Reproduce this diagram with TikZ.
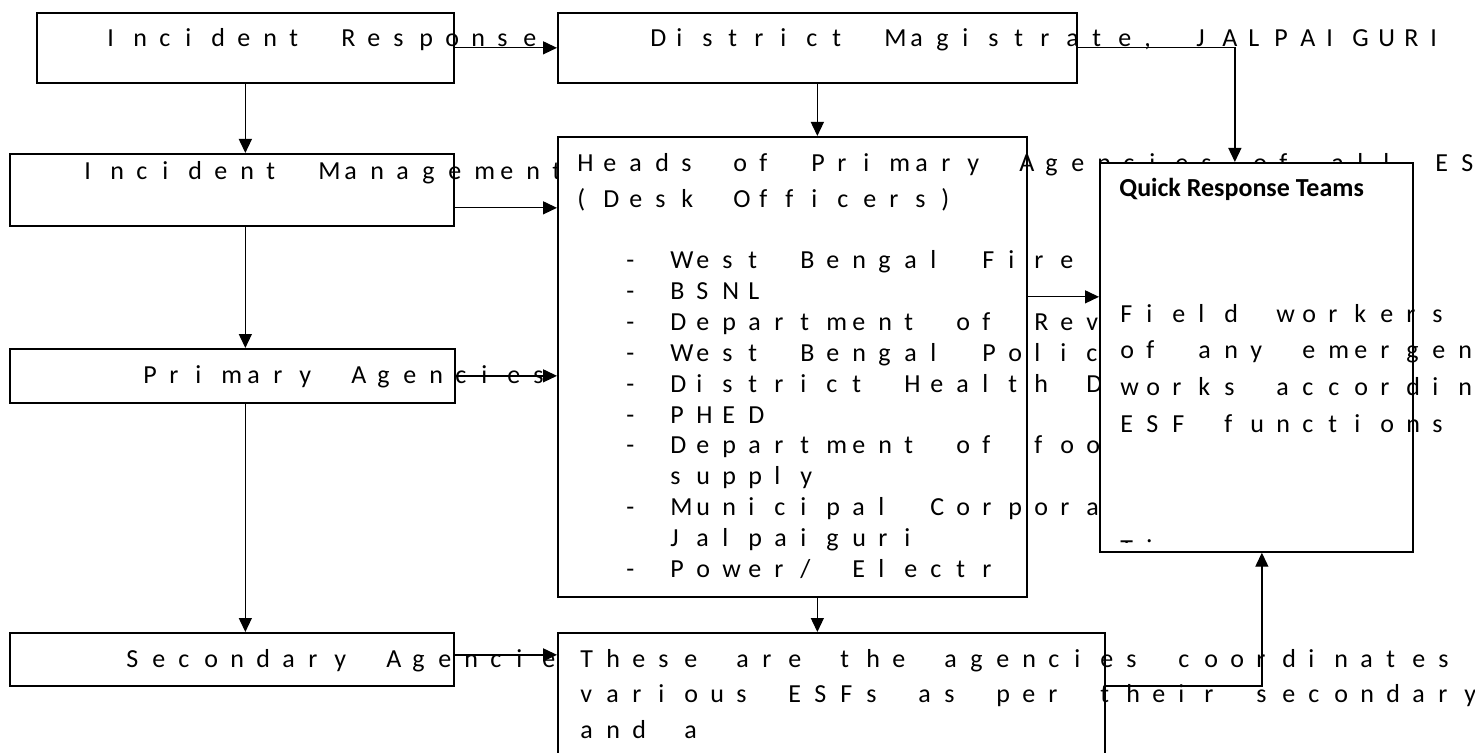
\documentclass[tikz,border=0pt]{standalone}
\usepackage{fontspec}
\setmainfont{Carlito}
\usetikzlibrary{arrows.meta}

%each letter in a cell of 1em
\ExplSyntaxOn
\cs_new:Npn \grid_gap: {}
\tl_new:N \l_grid_tl
\NewDocumentCommand \gridtext { m }
  {
    \tl_set:No \l_grid_tl {#1}
    \tl_replace_all:Nnn \l_grid_tl { ~ } { \grid_gap: }
    \tl_map_inline:Nn \l_grid_tl { \makebox[1em][l]{##1} }
  }
\ExplSyntaxOff

\tikzset{
  box/.style={draw, fill=white, line width=0.85pt, inner sep=0pt, anchor=north west},
  txt/.style={inner sep=0pt, anchor=base west, font=\fontsize{13pt}{15pt}\selectfont},
  arr/.style={line width=0.65pt, -{Triangle[length=7pt,width=6.5pt]}},
}

\begin{document}
\begin{tikzpicture}[x=0.5pt,y=-0.5pt]
\useasboundingbox (0,0) rectangle (1475,753);

%left column
\node[box, minimum width=208.5pt, minimum height=35pt] (ir) at (36,12) {};
\node[box, minimum width=222pt, minimum height=36pt] (im) at (9,153) {};
\node[box, minimum width=222.5pt, minimum height=27pt] (pa) at (9,348) {};
\node[box, minimum width=222pt, minimum height=26.5pt] (sa) at (9,632) {};
\node[txt] (irt) at (107,47) {\gridtext{Incident Response}};
\node[txt] (imt) at (84,180) {\gridtext{Incident Management}};
\node[txt] (pat) at (143,383) {\gridtext{Primary Agencies}};
\node[txt] (sat) at (126,667) {\gridtext{Secondary Agencies}};

%magistrate
\node[box, minimum width=259.5pt, minimum height=35pt] (dm) at (557,12) {};
\node[txt] (dmt) at (650,47) {\gridtext{District Magistrate, JALPAIGURI}};

%heads of agencies
\node[box, minimum width=234.5pt, minimum height=230pt] (heads) at (557,136) {};
\node[txt] (h1) at (577,172) {\gridtext{Heads of Primary Agencies of all ESFs}};
\node[txt] (h2) at (577,208) {\gridtext{(Desk Officers)}};
\foreach \t [count=\i from 0] in {West Bengal Fire,BSNL,Department of Revenue,
  West Bengal Police,District Health Department,PHED,Department of food,
  supply,Municipal Corporation,Jalpaiguri,Power/ Electr}
  \node[txt] (l\i) at (670,269+30.8*\i) {\gridtext{\t}};
\foreach \i in {0,...,6,8,10}
  \node[txt] (d\i) at (626,269+30.8*\i) {-};

%secondary agencies
\node[box, minimum width=273.5pt, minimum height=69pt] (esf) at (557,632) {};
\foreach \t [count=\i from 0] in {These are the agencies coordinates,
  various ESFs as per their secondary,and a}
  \node[txt] (e\i) at (580,667+35.5*\i) {\gridtext{\t}};

%quick response teams
\node[box, minimum width=156.5pt, minimum height=194.5pt] (qrt) at (1099,162) {};
\node[txt, font=\bfseries\fontsize{13pt}{15pt}\selectfont] (qt) at (1119,197) {Quick Response Teams};
\foreach \t [count=\i from 0] in {Field workers,of any emergency,works according,ESF functions}
  \node[txt] (q\i) at (1120,322+36.7*\i) {\gridtext{\t}};
\begin{scope}
\clip (qrt.north west) rectangle (1412,542);
\node[txt] (qf) at (1120,557) {\gridtext{Ti}};
\end{scope}

%arrows
\coordinate (imo) at ([yshift=-9pt]im.east);
\coordinate (ho) at ([yshift=35pt]heads.east);
\coordinate (so) at ([yshift=2.25pt]sa.east);
\coordinate (eo) at ([yshift=8pt]esf.east);

\draw[arr] (ir.east) -- (dm.west);
\draw[arr] (dm.south) -- (dm.south |- heads.north);
\draw[arr] (dm.east) -| ([xshift=-10.75pt]qrt.north);
\draw[arr] (ir.south) -- (ir.south |- im.north);
\draw[arr] (ir.south |- im.south) -- (ir.south |- pa.north);
\draw[arr] (ir.south |- pa.south) -- (ir.south |- sa.north);
\draw[arr] (imo) -- (imo -| heads.west);
\draw[arr] (pa.east) -- (pa.east -| heads.west);
\draw[arr] (ho) -- (ho -| qrt.west);
\draw[arr] (dm.south |- heads.south) -- (dm.south |- esf.north);
\draw[arr] (so) -- (so -| esf.west);
\draw[arr] (eo) -| ([xshift=2.75pt]qrt.south);

\end{tikzpicture}
\end{document}
